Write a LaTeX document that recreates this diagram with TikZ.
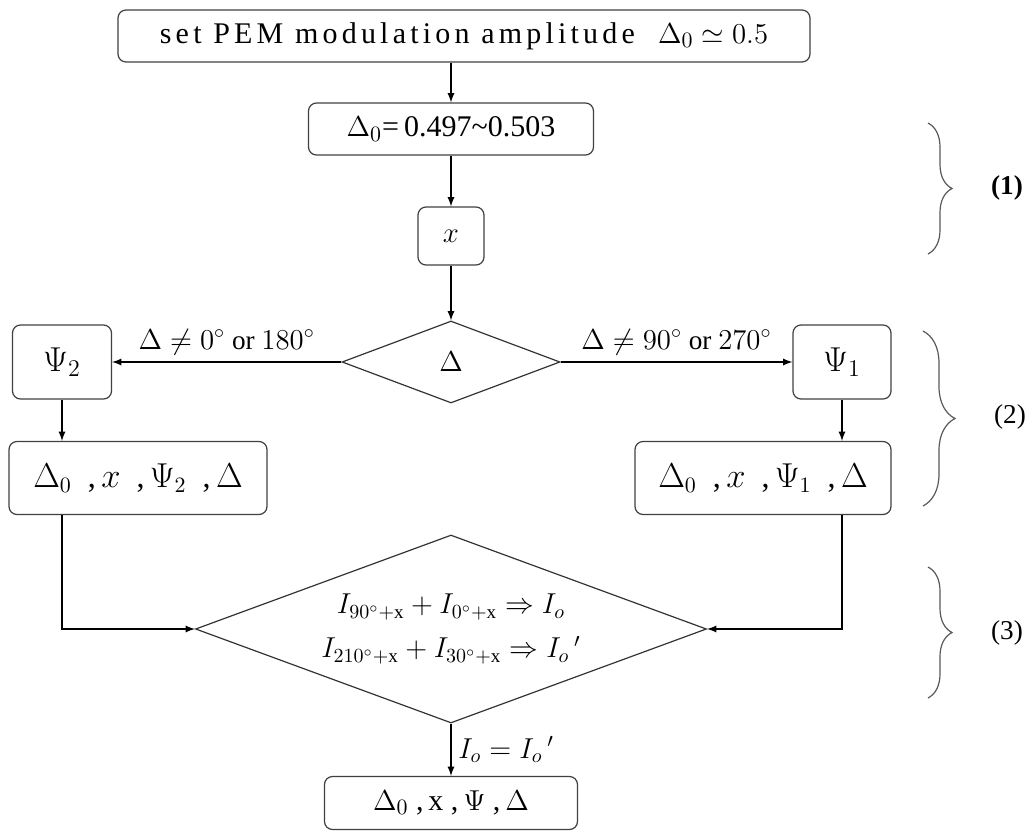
\documentclass[tikz,border=0pt]{standalone}
\usepackage{amsmath,amssymb}
\usepackage{fontspec}
\setmainfont{Liberation Serif}
\newfontfamily\spacedfont[LetterSpace=14]{Liberation Serif}
\usetikzlibrary{arrows,shapes,decorations.pathreplacing}

\tikzset{
	box/.style={draw=black!75,line width=0.6pt,rounded corners=4pt,inner sep=0pt,align=center},
	dec/.style={draw=black!80,line width=0.6pt,diamond,inner sep=0pt,align=center},
	brc/.style={draw=black!65,line width=0.6pt,decorate,decoration={brace,amplitude=#1}}
}

\begin{document}
\begin{tikzpicture}[x=0.5pt,y=-0.5pt,font=\fontsize{13.6}{17}\selectfont]
		\useasboundingbox (0,0) rectangle (1030,836);

		\node[box,minimum width=346pt,minimum height=26pt,font=\fontsize{15}{18}\selectfont] (S) at (464,36) {\spacedfont set PEM modulation amplitude\ \ $\Delta_0\simeq 0.5$};
		\node[box,minimum width=142.5pt,minimum height=26pt,font=\fontsize{15}{18}\selectfont] (D0) at (451,129) {$\Delta_0$=\,0.497\textasciitilde0.503};
		\node[box,minimum width=33pt,minimum height=29pt,font=\fontsize{15}{18}\selectfont] (X) at (451,236) {$x$};
		\node[dec,minimum width=109pt,minimum height=41pt,font=\fontsize{15}{18}\selectfont] (D) at (451,362) {$\Delta$};

		\node[box,minimum width=49.5pt,minimum height=37pt,font=\fontsize{17}{20}\selectfont] (P2) at (62,362) {$\Psi_2$};
		\node[box,minimum width=49pt,minimum height=37pt,font=\fontsize{17}{20}\selectfont] (P1) at (842,362) {$\Psi_1$};

		\node[box,minimum width=129pt,minimum height=36.5pt,font=\fontsize{16}{19}\selectfont] (L) at (138,478) {$\Delta_0$\ \ ,\,$x$\ \ ,\,$\Psi_2$\ \ ,\,$\Delta$};
		\node[box,minimum width=128pt,minimum height=36.5pt,font=\fontsize{16}{19}\selectfont] (R) at (763,478) {$\Delta_0$\ \ ,\,$x$\ \ ,\,$\Psi_1$\ \ ,\,$\Delta$};

		\node[dec,minimum width=255.5pt,minimum height=94pt,shape aspect=2.72,font=\fontsize{13.6}{20}\selectfont] (I) at (451,629)
			{$I_{90^\circ\mathrm{+x}}+I_{0^\circ\mathrm{+x}}\Rightarrow I_o$\\[2pt]
			 $I_{210^\circ\mathrm{+x}}+I_{30^\circ\mathrm{+x}}\Rightarrow I_o\,'$};
		\node[box,minimum width=126.5pt,minimum height=26.5pt,font=\fontsize{15}{18}\selectfont] (E) at (451,803) {$\Delta_0$\ ,\,x\ ,\,$\Psi$\ ,\,$\Delta$};

		\node (B1) at (1007,188) {\textbf{(1)}};
		\node (B2) at (1010,417) {(2)};
		\node (B3) at (1007,633) {(3)};
		%
		\path[->,>=latex,line width=0.6pt]
			(S.south -| D0.north) edge (D0.north)
			(D0) edge (X)
			(X) edge (D)
			(D) edge node[above]{$\Delta\neq0^\circ$ or $180^\circ$} (P2)
			(D) edge node[above]{$\Delta\neq90^\circ$ or $270^\circ$} (P1)
			(P2) edge (L.north -| P2)
			(P1) edge (R.north -| P1)
			(I) edge node[right]{$I_o=I_o\,'$} (E);
		\draw[->,>=latex,line width=0.6pt] (L.south -| P2) |- (I.west);
		\draw[->,>=latex,line width=0.6pt] (R.south -| P1) |- (I.east);

		\draw[brc=12pt] (928,123) -- (928,254);
		\draw[brc=16pt] (923,331) -- (923,506);
		\draw[brc=12pt] (928,567) -- (928,698);
	\end{tikzpicture}
\end{document}
